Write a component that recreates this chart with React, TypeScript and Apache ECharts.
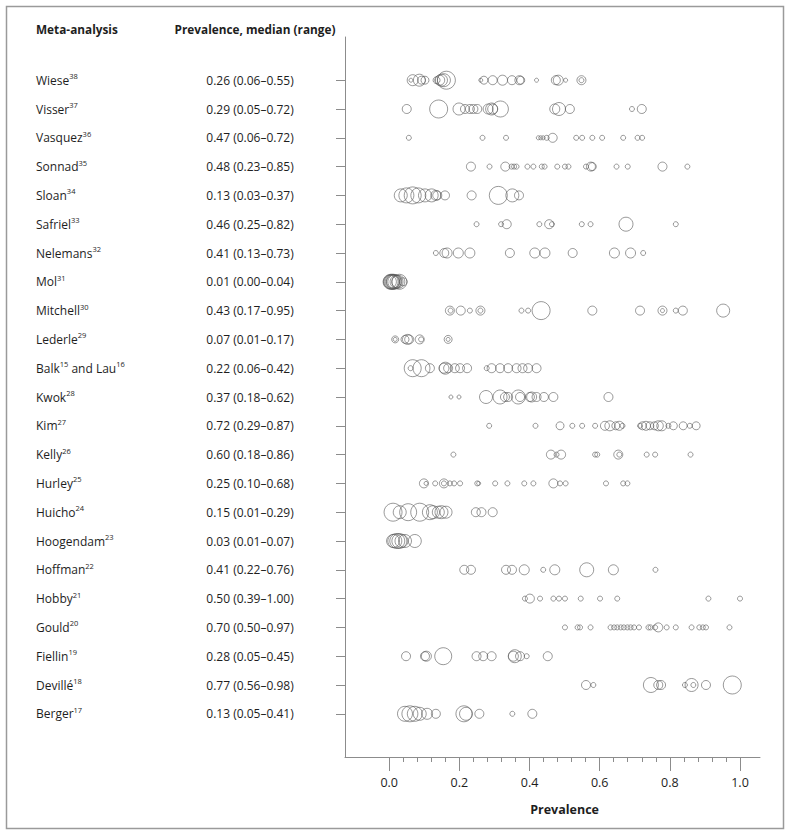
import React, { useEffect, useRef } from "react";
import * as echarts from "echarts";

// ---------- data ----------
const studyNameParts: string[][] = [
  ["Wiese", "38"],
  ["Visser", "37"],
  ["Vasquez", "36"],
  ["Sonnad", "35"],
  ["Sloan", "34"],
  ["Safriel", "33"],
  ["Nelemans", "32"],
  ["Mol", "31"],
  ["Mitchell", "30"],
  ["Lederle", "29"],
  ["Balk", "15", " and Lau", "16"],
  ["Kwok", "28"],
  ["Kim", "27"],
  ["Kelly", "26"],
  ["Hurley", "25"],
  ["Huicho", "24"],
  ["Hoogendam", "23"],
  ["Hoffman", "22"],
  ["Hobby", "21"],
  ["Gould", "20"],
  ["Fiellin", "19"],
  ["Devillé", "18"],
  ["Berger", "17"],
];

const prevalenceSummary: string[] = [
  "0.26 (0.06–0.55)",
  "0.29 (0.05–0.72)",
  "0.47 (0.06–0.72)",
  "0.48 (0.23–0.85)",
  "0.13 (0.03–0.37)",
  "0.46 (0.25–0.82)",
  "0.41 (0.13–0.73)",
  "0.01 (0.00–0.04)",
  "0.43 (0.17–0.95)",
  "0.07 (0.01–0.17)",
  "0.22 (0.06–0.42)",
  "0.37 (0.18–0.62)",
  "0.72 (0.29–0.87)",
  "0.60 (0.18–0.86)",
  "0.25 (0.10–0.68)",
  "0.15 (0.01–0.29)",
  "0.03 (0.01–0.07)",
  "0.41 (0.22–0.76)",
  "0.50 (0.39–1.00)",
  "0.70 (0.50–0.97)",
  "0.28 (0.05–0.45)",
  "0.77 (0.56–0.98)",
  "0.13 (0.05–0.41)",
];

// prevalence of each study inside each meta-analysis
const prevalenceValues: number[][] = [
  [0.062, 0.067, 0.086, 0.092, 0.102, 0.135, 0.144, 0.149, 0.156, 0.163, 0.261, 0.27, 0.295, 0.323, 0.35, 0.371, 0.375, 0.42, 0.475, 0.482, 0.503, 0.548, 0.548],
  [0.05, 0.141, 0.199, 0.216, 0.23, 0.24, 0.251, 0.282, 0.292, 0.295, 0.317, 0.472, 0.484, 0.515, 0.692, 0.72],
  [0.056, 0.266, 0.333, 0.425, 0.432, 0.439, 0.449, 0.466, 0.533, 0.55, 0.579, 0.607, 0.667, 0.708, 0.721],
  [0.233, 0.286, 0.331, 0.349, 0.356, 0.363, 0.394, 0.411, 0.435, 0.443, 0.479, 0.501, 0.511, 0.561, 0.575, 0.579, 0.648, 0.68, 0.779, 0.85],
  [0.033, 0.049, 0.067, 0.083, 0.102, 0.121, 0.133, 0.137, 0.159, 0.235, 0.311, 0.351, 0.37],
  [0.249, 0.319, 0.335, 0.428, 0.456, 0.464, 0.549, 0.574, 0.675, 0.817],
  [0.133, 0.157, 0.165, 0.197, 0.23, 0.344, 0.415, 0.444, 0.523, 0.642, 0.688, 0.724],
  [0.002, 0.004, 0.007, 0.01, 0.011, 0.013, 0.016, 0.021, 0.026, 0.029, 0.04],
  [0.173, 0.175, 0.204, 0.23, 0.26, 0.26, 0.377, 0.396, 0.433, 0.579, 0.715, 0.779, 0.779, 0.817, 0.837, 0.952],
  [0.017, 0.017, 0.045, 0.052, 0.057, 0.087, 0.091, 0.168, 0.168],
  [0.061, 0.067, 0.092, 0.116, 0.156, 0.16, 0.168, 0.187, 0.202, 0.222, 0.278, 0.292, 0.316, 0.339, 0.363, 0.38, 0.396, 0.42],
  [0.176, 0.199, 0.276, 0.316, 0.33, 0.339, 0.368, 0.373, 0.401, 0.406, 0.42, 0.441, 0.468, 0.625],
  [0.285, 0.417, 0.487, 0.522, 0.55, 0.587, 0.615, 0.629, 0.646, 0.656, 0.665, 0.715, 0.722, 0.732, 0.743, 0.756, 0.767, 0.777, 0.796, 0.81, 0.838, 0.857, 0.875],
  [0.183, 0.461, 0.477, 0.49, 0.587, 0.593, 0.653, 0.656, 0.734, 0.758, 0.859],
  [0.099, 0.105, 0.131, 0.156, 0.156, 0.173, 0.185, 0.202, 0.251, 0.255, 0.302, 0.337, 0.385, 0.411, 0.468, 0.487, 0.503, 0.618, 0.667, 0.679],
  [0.011, 0.03, 0.054, 0.087, 0.116, 0.125, 0.14, 0.149, 0.162, 0.247, 0.263, 0.295],
  [0.011, 0.016, 0.023, 0.029, 0.035, 0.045, 0.073],
  [0.214, 0.233, 0.333, 0.35, 0.385, 0.439, 0.472, 0.563, 0.639, 0.759],
  [0.387, 0.401, 0.43, 0.468, 0.484, 0.501, 0.546, 0.601, 0.65, 0.91, 1.0],
  [0.501, 0.537, 0.544, 0.574, 0.631, 0.641, 0.65, 0.66, 0.669, 0.679, 0.688, 0.698, 0.712, 0.739, 0.745, 0.758, 0.767, 0.791, 0.817, 0.862, 0.884, 0.894, 0.903, 0.97],
  [0.048, 0.102, 0.106, 0.154, 0.249, 0.268, 0.292, 0.354, 0.358, 0.373, 0.392, 0.452],
  [0.561, 0.582, 0.746, 0.767, 0.775, 0.843, 0.862, 0.867, 0.903, 0.978],
  [0.045, 0.059, 0.073, 0.087, 0.108, 0.133, 0.213, 0.219, 0.257, 0.351, 0.408],
];

// relative study weight (circle diameter)
const circleSizes: number[][] = [
  [4, 11, 12, 8, 8, 7, 10, 12, 13, 18, 4, 8, 9, 10, 9, 9, 8, 4, 9, 10, 4, 9, 5],
  [9, 18, 12, 9, 9, 9, 9, 10, 12, 10, 16, 10, 13, 9, 5, 9],
  [5, 5, 5, 4, 4, 4, 5, 9, 5, 5, 5, 5, 5, 5, 5],
  [9, 5, 9, 5, 5, 5, 5, 5, 5, 5, 5, 5, 5, 5, 9, 8, 5, 5, 9, 5],
  [13, 15, 17, 15, 13, 13, 10, 9, 9, 9, 18, 13, 9],
  [5, 5, 9, 5, 9, 5, 5, 5, 14, 5],
  [5, 9, 10, 10, 10, 9, 10, 10, 9, 10, 10, 5],
  [13, 15, 15, 15, 13, 15, 14, 13, 13, 15, 8],
  [9, 5, 9, 5, 9, 5, 5, 5, 18, 9, 9, 9, 4, 5, 9, 13],
  [7, 4, 8, 10, 9, 9, 5, 8, 4],
  [5, 17, 17, 9, 10, 12, 9, 9, 9, 9, 5, 9, 9, 9, 9, 9, 9, 9],
  [4, 4, 13, 14, 9, 9, 14, 9, 9, 10, 9, 9, 9, 9],
  [5, 5, 8, 5, 5, 5, 9, 10, 8, 9, 5, 5, 8, 9, 8, 8, 10, 10, 5, 8, 8, 5, 8],
  [5, 9, 5, 9, 5, 5, 9, 5, 5, 5, 5],
  [9, 4, 5, 9, 5, 5, 5, 5, 5, 4, 5, 5, 5, 5, 9, 5, 5, 5, 5, 5],
  [18, 13, 17, 18, 15, 13, 12, 13, 12, 9, 9, 9],
  [13, 14, 15, 15, 13, 13, 13],
  [9, 9, 9, 9, 10, 5, 10, 14, 10, 5],
  [5, 9, 5, 5, 5, 5, 5, 5, 5, 5, 5],
  [5, 5, 5, 5, 5, 5, 5, 5, 5, 5, 5, 5, 5, 5, 5, 5, 9, 5, 5, 5, 5, 5, 5, 5],
  [9, 9, 10, 17, 9, 9, 9, 10, 13, 9, 5, 9],
  [9, 5, 15, 9, 9, 5, 13, 5, 9, 18],
  [15, 16, 15, 13, 11, 9, 16, 13, 9, 5, 9],
];

const majorTicks = [0, 0.2, 0.4, 0.6, 0.8, 1.0];
const minorTicks = [
  0.04, 0.08, 0.12, 0.16, 0.24, 0.28, 0.32, 0.36, 0.44, 0.48, 0.52, 0.56,
  0.64, 0.68, 0.72, 0.76, 0.84, 0.88, 0.92, 0.96,
];
const headerLeft = "Meta-analysis";
const headerRight = "Prevalence, median (range)";
const xAxisTitle = "Prevalence";

// ---------- chart ----------
const FONT = "'Open Sans', 'Noto Sans', sans-serif";
const TEXT = "#1e1e1e";
const AXIS = "#8c8c8c";

const rowPositions = studyNameParts.map((_, i) => i + 1);

function nameLabel(parts: string[]): string {
  return parts
    .map((p, i) => (i % 2 === 0 ? `{n|${p}}` : `{s|${p}}`))
    .join("");
}

export default function App() {
  const ref = useRef<HTMLDivElement>(null);

  useEffect(() => {
    if (!ref.current) return;
    const chart = echarts.init(ref.current, null, { renderer: "svg" });

    const scatterData: number[][] = [];
    prevalenceValues.forEach((vals, r) => {
      vals.forEach((v, j) => {
        scatterData.push([v, rowPositions[r], circleSizes[r][j]]);
      });
    });

    const baseY = {
      type: "value" as const,
      min: -0.5,
      max: studyNameParts.length + 1.5,
      inverse: true,
      position: "left" as const,
      splitLine: { show: false },
    };

    chart.setOption({
      animation: false,
      backgroundColor: "#ffffff",
      grid: { left: 345, top: 37, width: 415, height: 720, containLabel: false },
      xAxis: [
        {
          type: "value",
          min: -0.126,
          max: 1.057,
          position: "bottom",
          axisLine: { show: true, onZero: false, lineStyle: { color: AXIS, width: 1 } },
          axisTick: { show: true, customValues: majorTicks, length: 14, lineStyle: { color: AXIS, width: 1 } },
          axisLabel: {
            show: true,
            customValues: majorTicks,
            formatter: (v: number) => v.toFixed(1),
            margin: 19,
            fontSize: 12.5,
            fontFamily: FONT,
            color: TEXT,
          },
          splitLine: { show: false },
        },
        {
          type: "value",
          min: -0.126,
          max: 1.057,
          position: "bottom",
          axisLine: { show: false, onZero: false },
          axisTick: { show: true, customValues: minorTicks, length: 5, lineStyle: { color: AXIS, width: 1 } },
          axisLabel: { show: false },
          splitLine: { show: false },
        },
      ],
      yAxis: [
        {
          ...baseY,
          axisLine: { show: true, onZero: false, lineStyle: { color: AXIS, width: 1 } },
          axisTick: { show: true, customValues: rowPositions, length: 9, lineStyle: { color: AXIS, width: 1 } },
          axisLabel: { show: false },
        },
        {
          ...baseY,
          axisLine: { show: false, onZero: false },
          axisTick: { show: false },
          axisLabel: {
            show: true,
            customValues: rowPositions,
            formatter: (v: number) => nameLabel(studyNameParts[Math.round(v) - 1] || [""]),
            margin: 309,
            align: "left",
            rich: {
              n: { fontSize: 12, fontFamily: FONT, color: TEXT, lineHeight: 16 },
              s: { fontSize: 7.5, fontFamily: FONT, color: TEXT, lineHeight: 9, verticalAlign: "top" },
            },
          },
        },
        {
          ...baseY,
          axisLine: { show: false, onZero: false },
          axisTick: { show: false },
          axisLabel: {
            show: true,
            customValues: rowPositions,
            formatter: (v: number) => prevalenceSummary[Math.round(v) - 1] || "",
            margin: 95,
            align: "center",
            fontSize: 12,
            fontFamily: FONT,
            color: TEXT,
          },
        },
      ],
      series: [
        {
          type: "scatter",
          xAxisIndex: 0,
          yAxisIndex: 0,
          data: scatterData,
          symbol: "circle",
          symbolSize: (d: number[]) => d[2],
          itemStyle: { color: "rgba(0,0,0,0)", borderColor: "#555555", borderWidth: 0.75 },
          emphasis: { disabled: true },
          silent: true,
        },
      ],
    });

    const titleX = chart.convertToPixel({ xAxisIndex: 0 }, 0.5) as number;

    chart.setOption({
      graphic: [
        {
          type: "rect",
          shape: { x: 6.5, y: 6.5, width: 777, height: 822 },
          style: { fill: "none", stroke: "#9a9a9a", lineWidth: 1.5 },
          silent: true,
        },
        {
          type: "text",
          x: 36,
          y: 29,
          style: {
            text: headerLeft,
            font: `bold 11.8px ${FONT}`,
            fill: TEXT,
            textAlign: "left",
            textVerticalAlign: "middle",
          },
        },
        {
          type: "text",
          x: 255,
          y: 29,
          style: {
            text: headerRight,
            font: `bold 11.8px ${FONT}`,
            fill: TEXT,
            textAlign: "center",
            textVerticalAlign: "middle",
          },
        },
        {
          type: "text",
          x: titleX,
          y: 809,
          style: {
            text: xAxisTitle,
            font: `bold 12.5px ${FONT}`,
            fill: TEXT,
            textAlign: "center",
            textVerticalAlign: "middle",
          },
        },
      ],
    });

    return () => chart.dispose();
  }, []);

  return (
    <div
      ref={ref}
      style={{ position: "fixed", left: 0, top: 0, width: 791, height: 837, background: "#fff" }}
    />
  );
}
